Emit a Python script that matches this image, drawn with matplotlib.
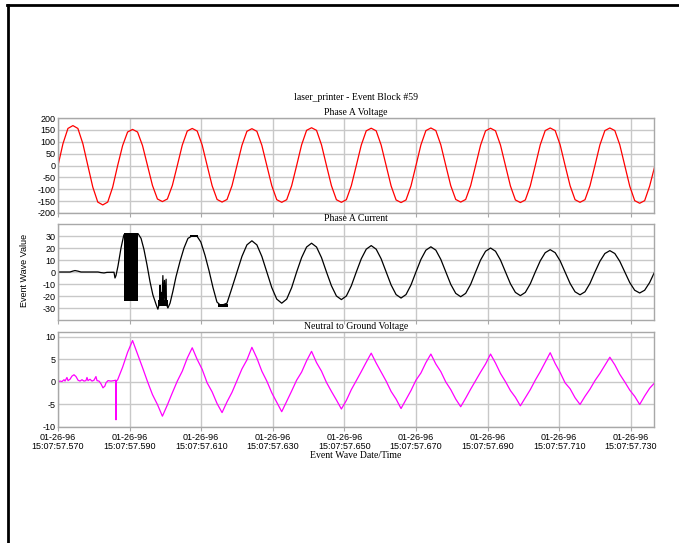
import numpy as np
import matplotlib
matplotlib.use('Agg')
import matplotlib.pyplot as plt
from matplotlib.lines import Line2D

plt.rcParams['axes.unicode_minus'] = False

# time axis: ms after 15:07:57.570, 12 samples per 60 Hz cycle
t_grid = np.arange(121) * (1000.0 / 60 / 12)

# Phase A voltage, one row per cycle
voltage = [
    0, 92, 156, 168, 156, 92, 0, -91, -154, -166, -154, -91,
    0, 84, 141, 152, 141, 84, 0, -84, -141, -152, -141, -84,
    0, 86, 145, 156, 145, 86, 0, -85, -143, -154, -143, -85,
    0, 85, 144, 155, 144, 85, 0, -85, -144, -155, -144, -85,
    0, 87, 148, 159, 148, 87, 0, -85, -144, -155, -144, -85,
    0, 86, 146, 157, 146, 86, 0, -86, -145, -156, -145, -86,
    0, 87, 147, 158, 147, 87, 0, -85, -143, -154, -143, -85,
    0, 86, 146, 157, 146, 86, 0, -86, -145, -156, -145, -86,
    0, 87, 147, 158, 147, 87, 0, -85, -144, -155, -144, -85,
    0, 87, 147, 158, 147, 87, 0, -87, -148, -159, -148, -87,
    -6,
]

# Phase A current: irregular start (inrush), then regular cycles from sample 36
current_t_early = [0, 3.35, 4.19, 4.75, 5.59, 6.42, 11.17, 12.0, 12.85, 13.69, 15.64, 15.92,
                   16.2, 16.76, 17.6, 18.4, 22.35, 23.2, 24.0, 24.86, 25.7, 26.5, 27.4, 27.9,
                   28.35, 28.5, 28.63, 28.9, 29.05, 29.3, 29.46, 29.75, 29.9, 30.2, 30.3, 30.7,
                   31.3, 32.1, 32.96, 34.1, 35.2, 36.3, 37.4, 38.8, 39.9, 41.06, 42.2, 43.3,
                   44.4, 45.5, 47.2, 48.3]
current_v_early = [0, 0, 0.8, 1.2, 0.7, 0, 0, -0.5, -0.8, -0.3, -0.2, -5,
                   -3, 5, 20, 31, 32, 28, 19, 6, -8, -19, -27, -31,
                   -26, -11, -25, -17, -26, -3, -24, -7, -26, -6, -27, -30,
                   -26, -16, -4, 9, 20, 28, 30, 30, 25, 14, 1, -13,
                   -25, -28, -26, -16]
current_late = [
    0, 13, 22.6, 26, 22.6, 13, 0, -13, -22.6, -26, -22.6, -13,
    0, 12, 20.8, 24, 20.8, 12, 0, -11.5, -20, -23, -20, -11.5,
    0, 11, 19, 22, 19, 11, 0, -10.8, -18.8, -21.7, -18.8, -10.8,
    0, 10.5, 18.2, 21, 18.2, 10.5, 0, -10.3, -17.8, -20.6, -17.8, -10.3,
    0, 10, 17.3, 20, 17.3, 10, 0, -9.8, -17, -19.7, -17, -9.8,
    0, 9.3, 16.1, 18.6, 16.1, 9.3, 0, -9.5, -16.5, -19, -16.5, -9.5,
    0, 8.9, 15.4, 17.8, 15.4, 8.9, 0, -8.8, -15.2, -17.5, -15.2, -8.8,
    0,
]
# heavy oscillation bands in the current trace: (t start, t end, low, high)
current_bands = [
    (18.4, 22.35, -24.5, 32.5),
    (28.0, 30.6, -28.0, -23.5),
    (36.8, 39.2, 29.0, 31.2),
    (44.6, 47.4, -28.8, -26.8),
]

# Neutral to ground voltage: noisy start, then regular cycles from sample 12
neutral_t_early = [0, 0.56, 1.12, 1.68, 1.96, 2.5, 2.8, 3.35, 3.9, 4.47, 5.03, 5.59, 6.15,
                   6.7, 7.26, 7.8, 8.1, 8.38, 8.94, 9.5, 10.06, 10.6, 10.9, 11.45, 12.0,
                   12.57, 13.1, 13.4, 13.97, 14.8, 15.64, 16.1, 16.2, 16.3]
neutral_v_early = [0, 0.2, 0.1, 0.5, 0.2, 1.0, 0.3, 0.6, 1.3, 1.6, 1.2, 0.4, 0.2,
                   0.5, 0.2, 0.3, 1.0, 0.3, 0.6, 0.2, 0.4, 1.2, 0.3, 0.2, -0.4,
                   -1.3, -0.9, -0.2, 0.3, 0.2, 0.3, 0.4, -8.4, 0.2]
neutral_late = [
    0.5, 3.3, 6.6, 9.2, 6.2, 3.2, 0.1, -2.8, -5.0, -7.6, -5.1, -2.4,
    0.2, 2.4, 5.3, 7.6, 5.0, 2.8, -0.2, -2.2, -4.8, -6.8, -4.4, -2.3,
    0.3, 2.9, 4.9, 7.7, 5.3, 2.4, 0.2, -2.4, -4.5, -6.6, -4.3, -2.0,
    0.4, 2.2, 4.7, 6.8, 4.3, 2.4, -0.1, -2.1, -4.0, -6.0, -4.1, -1.7,
    0.3, 2.3, 4.4, 6.4, 4.2, 2.2, 0.2, -2.1, -3.8, -5.9, -3.9, -1.9,
    0.4, 2.0, 4.3, 6.2, 4.0, 2.3, 0.0, -1.7, -3.8, -5.5, -3.6, -1.6,
    0.3, 2.2, 4.0, 6.2, 4.2, 1.9, 0.1, -1.9, -3.4, -5.3, -3.5, -1.7,
    0.4, 2.3, 4.4, 6.5, 4.1, 2.1, -0.2, -1.5, -3.5, -5.0, -3.2, -1.6,
    0.3, 1.9, 3.7, 5.5, 3.8, 1.7, 0.0, -1.8, -3.2, -5.0, -3.1, -1.4,
    -0.2,
]

xticks_ms = [0, 20, 40, 60, 80, 100, 120, 140, 160]
xtick_labels = ['01-26-96\n15:07:57.570', '01-26-96\n15:07:57.590', '01-26-96\n15:07:57.610',
                '01-26-96\n15:07:57.630', '01-26-96\n15:07:57.650', '01-26-96\n15:07:57.670',
                '01-26-96\n15:07:57.690', '01-26-96\n15:07:57.710', '01-26-96\n15:07:57.730']

serif = 'Liberation Serif'
sans = 'Liberation Sans'
grid_col = '#c8c8c8'
spine_col = '#a8a8a8'

fig = plt.figure(figsize=(6.79, 5.43), dpi=100)

# frame lines of the original window
fig.add_artist(Line2D([7 / 679, 1], [1 - 5 / 543, 1 - 5 / 543], transform=fig.transFigure,
                      color='black', lw=2))
fig.add_artist(Line2D([8 / 679, 8 / 679], [0, 1 - 5 / 543], transform=fig.transFigure,
                      color='black', lw=2))

left = 58 / 679
width = (654 - 58) / 679
ax1 = fig.add_axes([left, 1 - 213 / 543, width, 95 / 543])
ax2 = fig.add_axes([left, 1 - 320 / 543, width, 96 / 543])
ax3 = fig.add_axes([left, 1 - 427 / 543, width, 95 / 543])

ax1.plot(t_grid, voltage, color='#ff0000', lw=0.9)

t_cur = np.concatenate([current_t_early, t_grid[36:]])
v_cur = np.concatenate([current_v_early, current_late])
ax2.plot(t_cur, v_cur, color='black', lw=0.9)
for t0, t1, lo, hi in current_bands:
    ax2.fill_between([t0, t1], [lo, lo], [hi, hi], color='black', lw=0)

t_neu = np.concatenate([neutral_t_early, t_grid[12:]])
v_neu = np.concatenate([neutral_v_early, neutral_late])
ax3.plot(t_neu, v_neu, color='#ff00ff', lw=0.9)

ax1.set_ylim(-200, 200)
ax1.set_yticks(np.arange(-200, 201, 50))
ax2.set_ylim(-40, 40)
ax2.set_yticks(np.arange(-30, 31, 10))
ax3.set_ylim(-10, 11.1)
ax3.set_yticks(np.arange(-10, 11, 5))

titles = ['Phase A Voltage', 'Phase A Current', 'Neutral to Ground Voltage']
for ax, ttl in zip([ax1, ax2, ax3], titles):
    ax.set_xlim(0, 166.5)
    ax.set_xticks(xticks_ms)
    ax.grid(True, color=grid_col, lw=1.0)
    ax.set_axisbelow(True)
    for sp in ax.spines.values():
        sp.set_color(spine_col)
        sp.set_linewidth(1.0)
    ax.tick_params(axis='y', length=0, pad=2, labelsize=6.5)
    ax.tick_params(axis='x', length=3, color=spine_col, direction='out', labelsize=6.5)
    for lbl in ax.get_yticklabels():
        lbl.set_family(sans)
    ax.set_title(ttl, fontsize=7, family=serif, pad=2)

ax1.set_xticklabels([])
ax2.set_xticklabels([])
ax3.set_xticklabels(xtick_labels, family=sans, linespacing=1.0)
ax3.tick_params(axis='x', pad=1)

ax3.set_xlabel('Event Wave Date/Time', fontsize=7, family=serif, labelpad=0)
fig.text(25 / 679, 1 - 270 / 543, 'Event Wave Value', rotation=90, ha='center', va='center',
         fontsize=6.5, family=sans)
fig.text((58 + 654) / 2 / 679, 1 - 97 / 543, 'laser_printer - Event Block #59', ha='center',
         va='center', fontsize=7, family=serif)

fig.savefig('out.png', dpi=100)
